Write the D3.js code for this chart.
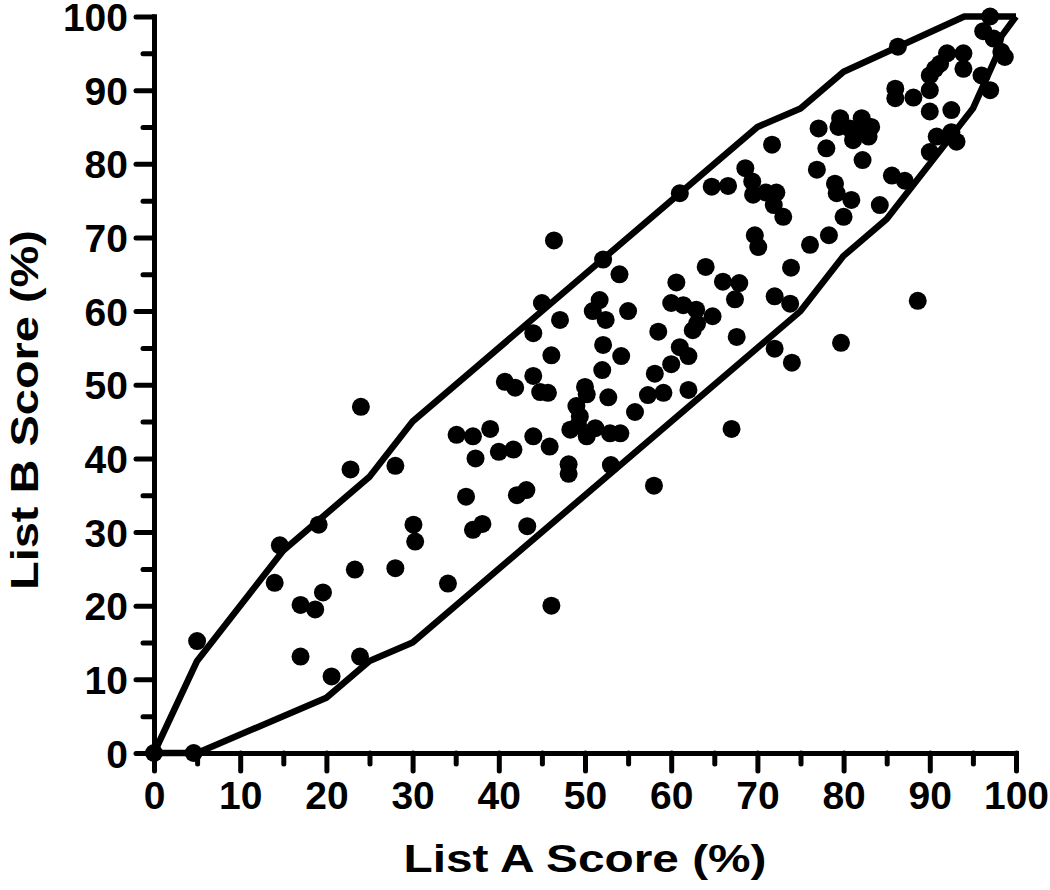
<!DOCTYPE html>
<html>
<head>
<meta charset="utf-8">
<script src="https://cdn.jsdelivr.net/npm/d3@7"></script>
<style>
  body { margin: 0; background: #fff; }
  text { font-family: "Liberation Sans", Arial, sans-serif; font-weight: bold; }
</style>
</head>
<body>
<div id="chart"></div>
<script>
// List A score (x) and List B score (y), in %
const listA = [0, 4.6, 5, 14.6, 14, 17, 18.7, 19.6, 17, 20.6, 23.9, 23.3, 28, 24, 22.8, 28, 19.1, 30.1, 30.3, 34.1, 46.1, 46.4,
  52.1, 54, 45, 51.7, 50.9, 52.4, 55, 47.1, 44, 60.6, 60, 61.4, 62.9, 58.5, 62.5, 52.1, 54.2, 46.1, 52, 61, 62, 60, 58.1,
  40.7, 41.9, 44, 44.8, 45.7, 50, 50.2, 52.7, 59.1, 57.3, 62, 49, 55.8, 49.4, 48.3, 50.2, 51.2, 52.9, 54.1, 49.2,
  35.1, 37, 39, 44, 45.9, 40, 41.7, 37.3, 48.1, 48.1, 53, 58, 36.2, 42.1, 43.2, 37, 38.1, 43.3,
  61, 71.7, 68.6, 69.4, 64.7, 66.6, 69.5, 71, 72.2, 71.9, 73, 76.9, 69.7, 70.1, 76.1, 73.9, 64, 66, 67.9, 67.4, 72, 73.8,
  64.8, 63, 67.6, 72, 74, 79.7, 88.6, 67,
  97, 96.2, 97.4, 98.3, 98.7, 86.3, 92, 93.9, 93.9, 91.2, 90.6, 90, 90, 96, 97, 86, 86, 88.1, 90, 92.5, 79.6, 82.1,
  77.1, 79.4, 80.7, 82.3, 83.2, 81.1, 82.9, 78, 82.2, 90.8, 92.5, 93.1, 90, 85.6, 87.1, 84.2, 79, 79.2, 80.9, 80, 78.3]
const listB = [0, 0, 15.2, 28.2, 23.1, 20.1, 19.5, 21.8, 13.1, 10.4, 13.1, 24.9, 25.1, 47, 38.5, 39, 31, 31, 28.7, 23, 20, 69.6,
  67, 65, 61.1, 61.5, 60, 58.8, 60, 58.8, 57, 63.9, 61.1, 60.8, 60.2, 57.2, 57.4, 55.4, 53.9, 54, 52, 55.1, 53.9, 52.8, 51.5,
  50.4, 49.6, 51.2, 49, 48.9, 49.7, 48.7, 48.3, 48.9, 48.6, 49.3, 47.1, 46.3, 45.7, 43.9, 43, 44.1, 43.4, 43.4, 44.5,
  43.2, 43, 44, 43, 41.6, 40.9, 41.2, 40, 39.2, 37.9, 39.1, 36.3, 34.8, 35, 35.7, 30.3, 31.1, 30.8,
  76, 82.6, 79.4, 77.6, 76.9, 77, 75.8, 76.1, 76.1, 74.4, 72.8, 79.2, 70.3, 68.7, 69, 65.9, 66, 64, 63.8, 61.6, 62, 61,
  59.3, 58.3, 56.5, 54.9, 53, 55.7, 61.4, 44,
  100, 98, 97, 95.2, 94.5, 95.9, 95, 95, 92.9, 93.6, 92.9, 92, 90, 92, 90, 90.2, 88.9, 89, 87.1, 87.3, 86.2, 86.2,
  84.8, 85, 84.8, 85, 85, 83.2, 83.7, 82.1, 80.5, 83.7, 84.3, 83, 81.6, 78.4, 77.7, 74.4, 77.3, 76, 75.1, 72.8, 70.3]

// upper and lower boundary lines
const upperX = [0, 5, 15, 25, 30, 70, 75, 80, 94, 100]
const upperY = [0, 12.5, 27.5, 37.5, 45, 85, 87.5, 92.5, 100, 100]
const lowerX = [0, 5, 20, 25, 30, 75, 80, 85, 95, 97.8, 98.3, 100]
const lowerY = [0, 0, 7.5, 12.5, 15, 60, 67.5, 72.5, 87.5, 94.8, 97.3, 100]

const majorTicks = [0, 10, 20, 30, 40, 50, 60, 70, 80, 90, 100]
const minorTicks = [5, 15, 25, 35, 45, 55, 65, 75, 85, 95]

const W = 1050, H = 890
const svg = d3.select('#chart').append('svg')
  .attr('width', W)
  .attr('height', H)

const x = d3.scaleLinear().domain([0, 100]).range([154, 1016])
const y = d3.scaleLinear().domain([0, 100]).range([753, 16.5])

// boundary lines
const line = d3.line().x(d => x(d[0])).y(d => y(d[1]))
const drawLine = (xs, ys) => {
  svg.append('path')
    .datum(xs.map((v, i) => [v, ys[i]]))
    .attr('d', line)
    .attr('fill', 'none')
    .attr('stroke', '#000')
    .attr('stroke-width', 6.5)
    .attr('stroke-linejoin', 'round')
}
drawLine(upperX, upperY)
drawLine(lowerX, lowerY)

// points
svg.append('g').selectAll('circle')
  .data(listA.map((v, i) => [v, listB[i]]))
  .join('circle')
    .attr('cx', d => x(d[0]))
    .attr('cy', d => y(d[1]))
    .attr('r', 9)
    .attr('fill', '#000')

// axes
const styleAxis = (g, labels) => {
  g.select('.domain').attr('stroke-width', 5).attr('stroke-linecap', 'square')
  g.selectAll('.tick line').attr('stroke-width', 5).attr('stroke-linecap', 'round')
  if (labels) g.selectAll('.tick text').attr('font-size', 39).attr('font-weight', 'bold').attr('fill', '#000')
  g.attr('font-family', null)
}

svg.append('g')
  .attr('transform', `translate(${x(0)},0)`)
  .call(d3.axisLeft(y).tickValues(minorTicks).tickSize(11).tickSizeOuter(0).tickFormat(''))
  .call(g => styleAxis(g, false))

svg.append('g')
  .attr('transform', `translate(${x(0)},0)`)
  .call(d3.axisLeft(y).tickValues(majorTicks).tickSize(18).tickSizeOuter(0).tickPadding(8))
  .call(g => styleAxis(g, true))
  .call(g => g.selectAll('.tick text').attr('dy', '0.36em'))

svg.append('g')
  .attr('transform', `translate(0,${y(0)})`)
  .call(d3.axisBottom(x).tickValues(minorTicks).tickSize(11).tickSizeOuter(0).tickFormat(''))
  .call(g => styleAxis(g, false))

svg.append('g')
  .attr('transform', `translate(0,${y(0)})`)
  .call(d3.axisBottom(x).tickValues(majorTicks).tickSize(18).tickSizeOuter(0).tickPadding(10))
  .call(g => styleAxis(g, true))

// axis titles
svg.append('text')
  .attr('x', (x(0) + x(100)) / 2)
  .attr('y', 872)
  .attr('text-anchor', 'middle')
  .attr('font-size', 38)
  .attr('textLength', 363)
  .attr('lengthAdjust', 'spacingAndGlyphs')
  .text('List A Score (%)')

svg.append('text')
  .attr('transform', `translate(38,410) rotate(-90)`)
  .attr('text-anchor', 'middle')
  .attr('font-size', 38)
  .attr('textLength', 360)
  .attr('lengthAdjust', 'spacingAndGlyphs')
  .text('List B Score (%)')
</script>
</body>
</html>
